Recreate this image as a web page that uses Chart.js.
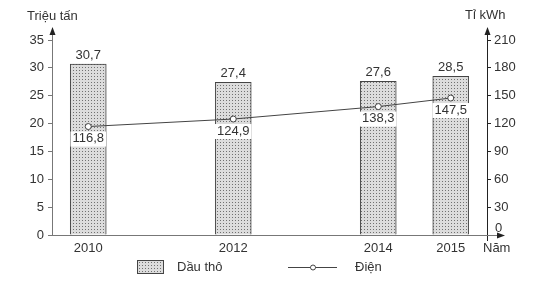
<!DOCTYPE html>
<html>
<head>
<meta charset="utf-8">
<script src="https://cdn.jsdelivr.net/npm/chart.js@4"></script>
<style>
  html, body { margin: 0; padding: 0; background: #fff; }
  #wrap { width: 552px; height: 292px; position: relative; }
</style>
</head>
<body>
<div id="wrap"><canvas id="chart"></canvas></div>
<script>
// data
const years = [2010, 2012, 2014, 2015];
const crudeOil = [30.7, 27.4, 27.6, 28.5];        // Triệu tấn
const electricity = [116.8, 124.9, 138.3, 147.5];   // Tỉ kWh
const leftTicks = [0, 5, 10, 15, 20, 25, 30, 35];
const rightTicks = [0, 30, 60, 90, 120, 150, 180, 210];

const FONT = "'Liberation Sans', Arial, sans-serif";
const TXT = "#333";
const FS = 13;

// dotted fill like the printed figure
const makePattern = () => {
  const c = document.createElement("canvas");
  c.width = 3; c.height = 3;
  const g = c.getContext("2d");
  g.fillStyle = "#dcdcdc";
  g.fillRect(0, 0, 3, 3);
  g.fillStyle = "#707070";
  g.fillRect(1, 1, 1, 1);
  return g.createPattern(c, "repeat");
};
const dots = makePattern();

const fmt = (v) => v.toFixed(1).replace(".", ",");

const arrowUp = (ctx, x, y) => {
  ctx.beginPath();
  ctx.moveTo(x, y);
  ctx.lineTo(x - 3, y + 8);
  ctx.lineTo(x + 3, y + 8);
  ctx.closePath();
  ctx.fill();
};

const decor = {
  id: "decor",
  afterDatasetsDraw(chart) {
    const { ctx, chartArea: a, scales } = chart;
    const yR = scales.y1;
    ctx.save();

    // axes
    ctx.lineWidth = 1;
    ctx.strokeStyle = "#777";
    ctx.fillStyle = "#222";
    ctx.beginPath();
    ctx.moveTo(a.left + 0.5, a.bottom);
    ctx.lineTo(a.left + 0.5, a.top - 12);
    ctx.stroke();
    arrowUp(ctx, a.left + 0.5, a.top - 13);

    ctx.strokeStyle = "#222";
    ctx.beginPath();
    ctx.moveTo(a.right + 0.5, a.bottom + 6);
    ctx.lineTo(a.right + 0.5, a.top - 12);
    ctx.stroke();
    arrowUp(ctx, a.right + 0.5, a.top - 13);

    ctx.strokeStyle = "#777";
    ctx.beginPath();
    ctx.moveTo(a.left, a.bottom + 0.5);
    ctx.lineTo(a.right + 12, a.bottom + 0.5);
    ctx.stroke();
    ctx.beginPath();
    ctx.moveTo(a.right + 18, a.bottom + 0.5);
    ctx.lineTo(a.right + 10, a.bottom - 2.5);
    ctx.lineTo(a.right + 10, a.bottom + 3.5);
    ctx.closePath();
    ctx.fill();

    // axis titles
    ctx.fillStyle = TXT;
    ctx.font = FS + "px " + FONT;
    ctx.textBaseline = "middle";
    ctx.textAlign = "left";
    ctx.fillText("Triệu tấn", 27, 16);
    ctx.fillText("Tỉ kWh", a.right - 22, 15);
    ctx.fillText("Năm", a.right - 4, a.bottom + 13);
    // right zero, lifted off the arrow
    ctx.fillText("0", a.right + 8, yR.getPixelForValue(0) - 7);

    // bar values
    ctx.textAlign = "center";
    ctx.textBaseline = "bottom";
    chart.getDatasetMeta(0).data.forEach((bar, i) => {
      ctx.fillText(fmt(crudeOil[i]), bar.x, bar.y - 2);
    });

    // point values with white box
    ctx.textBaseline = "middle";
    chart.getDatasetMeta(1).data.forEach((pt, i) => {
      const t = fmt(electricity[i]);
      const w = ctx.measureText(t).width + 4;
      ctx.fillStyle = "#fff";
      ctx.fillRect(pt.x - w / 2, pt.y + 5, w, 15);
      ctx.fillStyle = TXT;
      ctx.fillText(t, pt.x, pt.y + 12);
    });

    // legend
    const ly = 267;
    ctx.fillStyle = dots;
    ctx.fillRect(137, ly - 7, 26, 13);
    ctx.strokeStyle = "#444";
    ctx.strokeRect(137.5, ly - 6.5, 26, 13);
    ctx.fillStyle = TXT;
    ctx.textAlign = "left";
    ctx.fillText("Dầu thô", 177, ly);

    ctx.strokeStyle = "#444";
    ctx.beginPath();
    ctx.moveTo(288, ly + 0.5);
    ctx.lineTo(337, ly + 0.5);
    ctx.stroke();
    ctx.beginPath();
    ctx.arc(313, ly + 0.5, 2.5, 0, Math.PI * 2);
    ctx.fillStyle = "#fff";
    ctx.fill();
    ctx.stroke();
    ctx.fillStyle = TXT;
    ctx.fillText("Điện", 355, ly);

    ctx.restore();
  }
};

new Chart(document.getElementById("chart"), {
  type: "bar",
  data: {
    datasets: [
      {
        label: "Dầu thô",
        data: years.map((x, i) => ({ x, y: crudeOil[i] })),
        backgroundColor: dots,
        borderColor: "#444",
        borderWidth: 1,
        barThickness: 36,
        yAxisID: "y",
        order: 2
      },
      {
        type: "line",
        label: "Điện",
        data: years.map((x, i) => ({ x, y: electricity[i] })),
        borderColor: "#444",
        borderWidth: 1,
        pointRadius: 3,
        pointBackgroundColor: "#fff",
        pointBorderColor: "#444",
        pointBorderWidth: 1,
        yAxisID: "y1",
        order: 1
      }
    ]
  },
  options: {
    responsive: true,
    maintainAspectRatio: false,
    animation: false,
    layout: { padding: { top: 40, left: 0, right: 0, bottom: 0 } },
    plugins: { legend: { display: false }, tooltip: { enabled: false } },
    scales: {
      x: {
        type: "linear",
        offset: false,
        min: 2009.5,
        max: 2015.5,
        afterBuildTicks: (s) => { s.ticks = years.map((v) => ({ value: v })); },
        afterFit: (s) => { s.height = 57; },
        grid: { display: false, drawTicks: false },
        border: { display: false },
        ticks: {
          color: TXT,
          font: { family: FONT, size: FS },
          padding: 6,
          maxRotation: 0,
          callback: (v) => String(v)
        }
      },
      y: {
        position: "left",
        min: 0,
        max: 35,
        afterBuildTicks: (s) => { s.ticks = leftTicks.map((v) => ({ value: v })); },
        afterFit: (s) => { s.width = 52; },
        grid: { drawOnChartArea: false, tickLength: 4, color: "#777" },
        border: { display: false },
        ticks: { color: TXT, font: { family: FONT, size: FS }, padding: 4 }
      },
      y1: {
        position: "right",
        min: 0,
        max: 210,
        afterBuildTicks: (s) => { s.ticks = rightTicks.map((v) => ({ value: v })); },
        afterFit: (s) => { s.width = 65; },
        grid: { drawOnChartArea: false, tickLength: 4, color: "#222" },
        border: { display: false },
        ticks: {
          color: TXT,
          font: { family: FONT, size: FS },
          padding: 3,
          callback: (v) => (v === 0 ? "" : String(v))
        }
      }
    }
  },
  plugins: [decor]
});
</script>
</body>
</html>
